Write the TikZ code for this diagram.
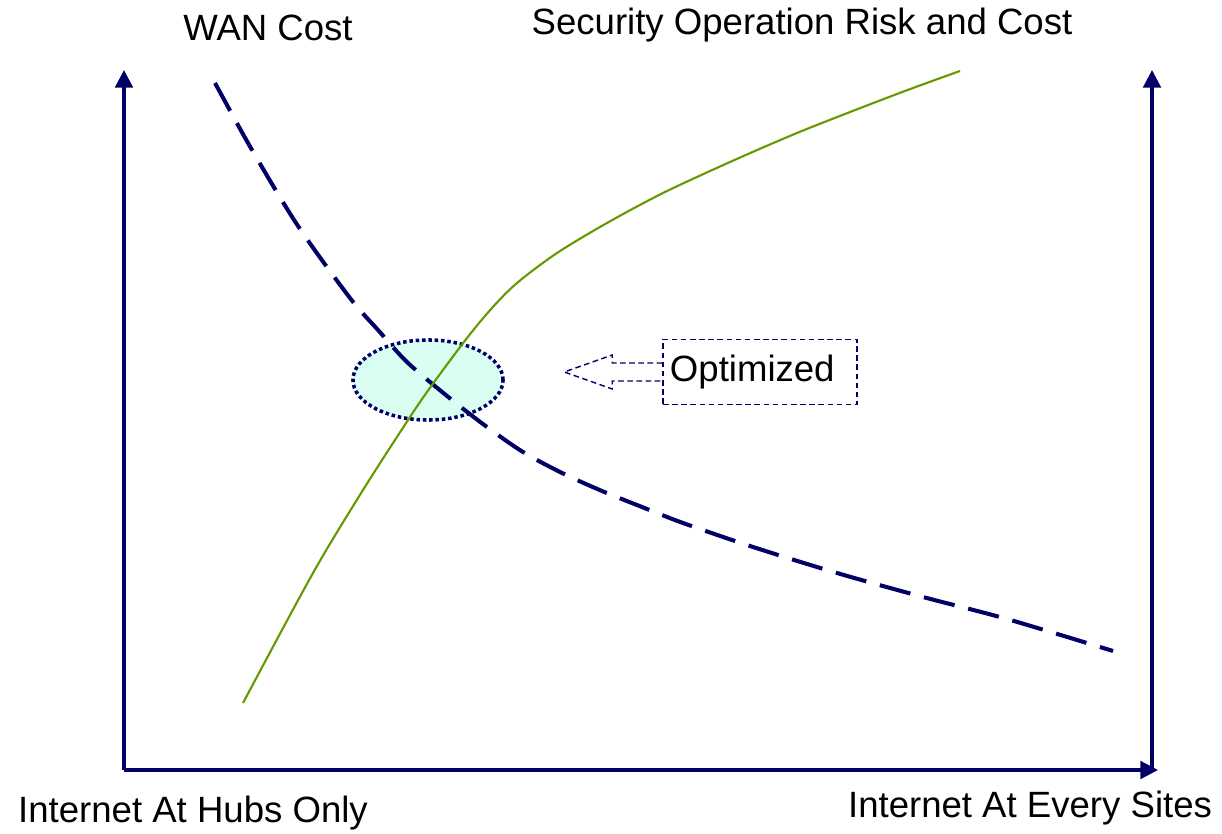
\documentclass[tikz,border=0pt]{standalone}
\usepackage{fontspec}
\setmainfont{Liberation Sans}
\usetikzlibrary{arrows.meta,shapes.geometric}

\definecolor{axisnavy}{RGB}{0,0,102}
\definecolor{riskgreen}{RGB}{102,153,0}
\definecolor{zonefill}{RGB}{218,255,242}

\begin{document}
\begin{tikzpicture}[
    x=0.01cm, y=-0.01cm,
    axis/.style={
        draw=axisnavy, line width=0.9pt,
        -{Triangle[length=5pt,width=5pt]},
    },
    wancurve/.style={
        draw=axisnavy, line width=1.15pt,
        dash pattern=on 9pt off 4pt,
    },
    riskcurve/.style={
        draw=riskgreen, line width=0.6pt,
    },
    zone/.style={
        ellipse, fill=zonefill, draw=axisnavy,
        line width=1pt, dash pattern=on 1pt off 0.8pt,
        minimum width=1.5cm, minimum height=0.8cm,
    },
    tagbox/.style={
        rectangle, draw=axisnavy, line width=0.4pt,
        dash pattern=on 1.6pt off 1pt,
        font=\fontsize{10.4pt}{12pt}\selectfont,
        text width=1.8cm, align=left,
        inner xsep=0.07cm, minimum height=0.65cm,
    },
    callout/.style={
        draw=axisnavy, line width=0.4pt,
        dash pattern=on 1.6pt off 1pt,
    },
    lbl/.style={
        font=\fontsize{10.4pt}{12pt}\selectfont, inner sep=1pt,
    },
]
\useasboundingbox (0,0) rectangle (1222,834);

% axes
\coordinate (o) at (124,770);
\coordinate (ytop) at (124,70);
\coordinate (xend) at (1158,770);
\coordinate (rbot) at (1152,770);
\coordinate (rtop) at (1152,70);

% optimized zone, under the curves
\node[zone] (opt) at (428,380) {};

\draw[axis] (o) -- (ytop);
\draw[axis] (rbot) -- (rtop);
\draw[axis] (o) -- (xend);

% the two curves
\draw[wancurve] plot[smooth, tension=0.5] coordinates {
    (215,83) (252,150) (298,226) (350,298) (378,330) (408,363)
    (452,400) (487,427) (523,452) (562,473) (602,491) (642,507)
    (683,523) (753,547) (837,573) (923,597) (1007,619) (1113,651)};
\draw[riskcurve] plot[smooth, tension=0.5] coordinates {
    (243,703) (313,573) (363,490) (410,417) (432,385) (467,338)
    (492,308) (517,283) (557,253) (607,223) (663,193) (730,162)
    (797,133) (863,107) (913,88) (960,71)};

% label box and its hollow arrow
\node[tagbox] (tag) at (760,372) {Optimized};
\draw[callout] (tag.west) ++(0,-9) -- ++(-50,0) -- ++(0,-8)
    -- ++(-48,17) -- ++(48,17) -- ++(0,-8) -- ++(50,0);

% axis texts
\node[lbl] (wan) at (268,28) {WAN Cost};
\node[lbl] (sec) at (802,25) {Security Operation Risk and Cost};
\node[lbl] (hubs) at (193,813) {Internet At Hubs Only};
\node[lbl] (every) at (1030,808) {Internet At Every Sites};

\end{tikzpicture}
\end{document}
